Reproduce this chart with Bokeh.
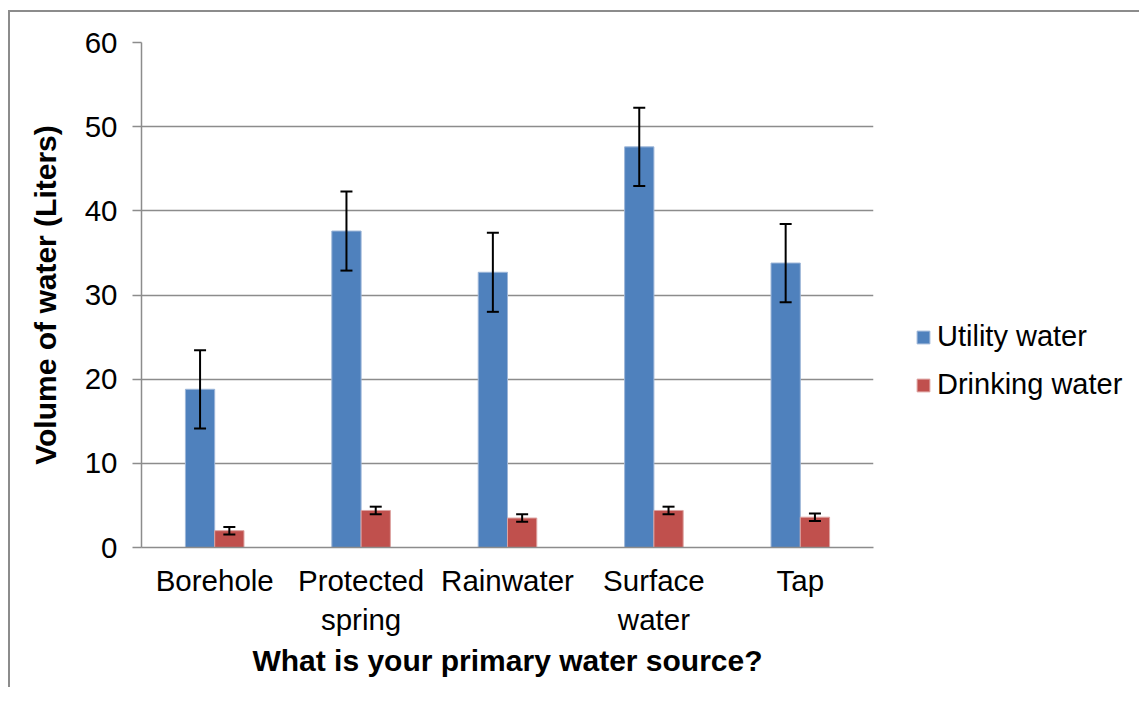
from bokeh.plotting import figure
from bokeh.models import ColumnDataSource, Whisker, TeeHead, Legend, LegendItem, FixedTicker
from bokeh.transform import dodge
from bokeh.embed import file_html
from bokeh.resources import INLINE

categories = ["Borehole", "Protected\nspring", "Rainwater", "Surface\nwater", "Tap"]
utility = [18.8, 37.6, 32.7, 47.6, 33.8]
utility_err = [4.65, 4.7, 4.7, 4.65, 4.65]
drinking = [2.0, 4.4, 3.5, 4.4, 3.6]
drinking_err = [0.45, 0.45, 0.45, 0.45, 0.45]
y_ticks = [0, 10, 20, 30, 40, 50, 60]

src = ColumnDataSource(dict(
    cat=categories,
    u=utility,
    u_lo=[v - e for v, e in zip(utility, utility_err)],
    u_hi=[v + e for v, e in zip(utility, utility_err)],
    d=drinking,
    d_lo=[v - e for v, e in zip(drinking, drinking_err)],
    d_hi=[v + e for v, e in zip(drinking, drinking_err)],
))

FONT = "Liberation Sans"
GRID = "#8c8c8c"

p = figure(x_range=categories, y_range=(0, 60), frame_width=732, frame_height=505,
           output_backend="svg", toolbar_location=None,
           min_border_left=131, min_border_right=257, min_border_top=30, min_border_bottom=140)
p.styles = {"border-top": "2px solid #8c8c8c", "border-left": "2px solid #8c8c8c",
            "margin-top": "10px", "margin-left": "8px"}
p.outline_line_color = None
p.background_fill_color = "white"
p.border_fill_color = "white"

ub = p.vbar(x=dodge("cat", -0.1, range=p.x_range), top="u", width=0.2, source=src,
            fill_color="#4F81BD", line_color="#9DB6D8", line_width=1)
db = p.vbar(x=dodge("cat", 0.1, range=p.x_range), top="d", width=0.2, source=src,
            fill_color="#C0504D", line_color="#DDA3A1", line_width=1)

for base, lo, hi in [(dodge("cat", -0.1, range=p.x_range), "u_lo", "u_hi"),
                     (dodge("cat", 0.1, range=p.x_range), "d_lo", "d_hi")]:
    w = Whisker(source=src, base=base, lower=lo, upper=hi, line_color="black", line_width=2,
                upper_head=TeeHead(size=12, line_width=2, line_color="black"),
                lower_head=TeeHead(size=12, line_width=2, line_color="black"),
                level="overlay")
    p.add_layout(w)

p.xgrid.grid_line_color = None
p.ygrid.grid_line_color = GRID
p.ygrid.grid_line_width = 1.5
p.yaxis.ticker = FixedTicker(ticks=y_ticks)

for ax in (p.xaxis[0], p.yaxis[0]):
    ax.axis_line_color = GRID
    ax.axis_line_width = 1.5
    ax.major_label_text_font = FONT
    ax.major_label_text_font_size = "29.5px"
    ax.major_label_text_color = "black"
    ax.axis_label_text_font = FONT
    ax.axis_label_text_font_size = "30px"
    ax.axis_label_text_font_style = "bold"
    ax.axis_label_text_color = "black"
    ax.minor_tick_line_color = None

p.xaxis.major_tick_line_color = None
p.xaxis.major_tick_out = 0
p.xaxis.major_label_standoff = 16
p.xaxis.axis_label = "What is your primary water source?"
p.xaxis.axis_label_standoff = 5

p.yaxis.major_tick_line_color = GRID
p.yaxis.major_tick_line_width = 1.5
p.yaxis.major_tick_out = 9
p.yaxis.major_tick_in = 0
p.yaxis.major_label_standoff = 15
p.yaxis.axis_label = "Volume of water (Liters)"
p.yaxis.axis_label_standoff = 20

legend = Legend(items=[LegendItem(label="Utility water", renderers=[ub]),
                       LegendItem(label="Drinking water", renderers=[db])],
                location=(42, 146), orientation="vertical")
legend.border_line_color = None
legend.background_fill_alpha = 0
legend.label_text_font = FONT
legend.label_text_font_size = "29px"
legend.label_text_color = "black"
legend.glyph_width = 16
legend.glyph_height = 16
legend.label_standoff = 6
legend.spacing = 15
legend.padding = 4
legend.margin = 0
p.add_layout(legend, "right")

open("out.html", "w").write(file_html(p, INLINE))
